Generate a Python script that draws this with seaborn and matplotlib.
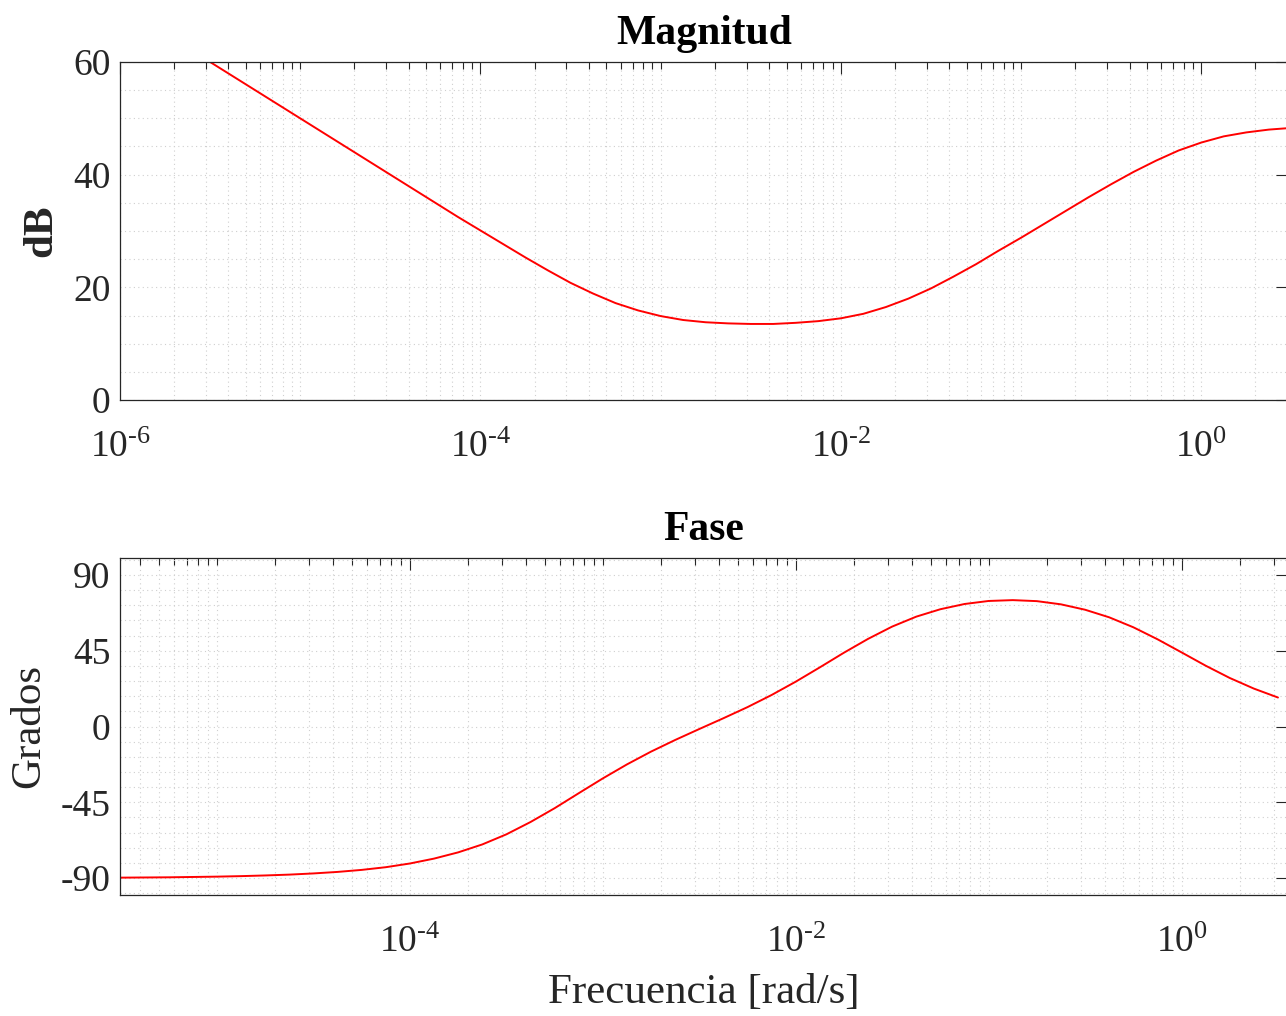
import numpy as np
import matplotlib
matplotlib.use("Agg")
import matplotlib.pyplot as plt
import matplotlib.ticker as mticker
import seaborn as sns

# ------------------------------------------------------------
# data (frequency given as log10 rad/s)
# ------------------------------------------------------------

FREQ_EXP = [
    -5.5, -5.375, -5.25, -5.125, -5.0, -4.875, -4.75, -4.625,
    -4.5, -4.375, -4.25, -4.125, -4.0, -3.875, -3.75, -3.625,
    -3.5, -3.375, -3.25, -3.125, -3.0, -2.875, -2.75, -2.625,
    -2.5, -2.375, -2.25, -2.125, -2.0, -1.875, -1.75, -1.625,
    -1.5, -1.375, -1.25, -1.125, -1.0, -0.875, -0.75, -0.625,
    -0.5, -0.375, -0.25, -0.125, 0.0, 0.125, 0.25, 0.375, 0.5,
]

MAG_DB = [
    60.0, 57.5, 55.0, 52.5, 50.0, 47.5, 45.0, 42.5,
    40.0, 37.5, 35.0, 32.5, 30.1, 27.7, 25.3, 23.0,
    20.8, 18.9, 17.2, 15.9, 14.9, 14.2, 13.8, 13.6,
    13.5, 13.5, 13.7, 14.0, 14.5, 15.3, 16.5, 18.0,
    19.8, 21.9, 24.1, 26.5, 28.8, 31.2, 33.6, 36.0,
    38.3, 40.5, 42.5, 44.3, 45.7, 46.8, 47.5, 48.0, 48.3,
]

PHASE_DEG = [
    -89.7, -89.6, -89.5, -89.3, -89.1, -88.8, -88.4, -87.9,
    -87.2, -86.3, -85.1, -83.5, -81.3, -78.4, -74.7, -70.0,
    -64.0, -56.7, -48.5, -39.6, -30.8, -22.5, -14.9, -8.0,
    -1.5, 4.9, 11.5, 18.7, 26.6, 35.1, 43.8, 52.0,
    59.3, 65.2, 69.6, 72.7, 74.5, 75.0, 74.4, 72.5,
    69.3, 64.8, 58.9, 51.8, 44.0, 36.1, 28.8, 22.5, 17.2,
]

MAG_TICKS = [0, 20, 40, 60]
PHASE_TICKS = [-90, -45, 0, 45, 90]
MAG_XTICKS = [1e-6, 1e-4, 1e-2, 1e0]
PHASE_XTICKS = [1e-4, 1e-2, 1e0]

# ------------------------------------------------------------
# style
# ------------------------------------------------------------

sns.set_style("white")
plt.rcParams["font.family"] = ["Liberation Serif", "DejaVu Serif"]
plt.rcParams["mathtext.fontset"] = "custom"
plt.rcParams["mathtext.rm"] = "Liberation Serif"
plt.rcParams["mathtext.it"] = "Liberation Serif:italic"
plt.rcParams["mathtext.bf"] = "Liberation Serif:bold"
plt.rcParams["axes.unicode_minus"] = False

AX_COLOR = "#262626"
GRID_COLOR = "#cfcfcf"
TICK_SIZE = 27
LABEL_SIZE = 31


def pow10_label(v, pos):
    e = int(round(np.log10(v)))
    if e < 0:
        return r"$10^{\text{-}%d}$" % abs(e)
    return r"$10^{%d}$" % e


def style_axis(ax, xticks):
    ax.set_xscale("log")
    ax.xaxis.set_major_locator(mticker.FixedLocator(xticks))
    ax.xaxis.set_major_formatter(mticker.FuncFormatter(pow10_label))
    ax.xaxis.set_minor_locator(
        mticker.LogLocator(base=10, subs=np.arange(1, 10), numticks=100)
    )
    ax.xaxis.set_minor_formatter(mticker.NullFormatter())

    for s in ax.spines.values():
        s.set_color(AX_COLOR)
        s.set_linewidth(0.9)
        s.set_visible(True)

    ax.tick_params(which="both", direction="in", top=True, right=True,
                   color=AX_COLOR, width=0.8, labelcolor=AX_COLOR)
    ax.tick_params(which="major", length=8.6, labelsize=TICK_SIZE)
    ax.tick_params(which="minor", length=5)
    ax.tick_params(axis="y", which="minor", length=0)
    ax.tick_params(axis="x", which="major", pad=22)
    ax.tick_params(axis="y", which="major", pad=7)

    ax.grid(True, which="both", linestyle=(0, (1, 3)), color=GRID_COLOR,
            linewidth=0.8)
    ax.set_axisbelow(True)


# ------------------------------------------------------------
# figure
# ------------------------------------------------------------

W, H = 1286, 1016
fig = plt.figure(figsize=(W / 100, H / 100), dpi=100)

ax_mag = fig.add_axes([120 / W, (H - 400) / H, 1168 / W, 338 / H])
ax_ph = fig.add_axes([120 / W, (H - 895) / H, 1168 / W, 337 / H])

freq = 10.0 ** np.array(FREQ_EXP)

# ---------- magnitude ----------
style_axis(ax_mag, MAG_XTICKS)
sns.lineplot(x=freq, y=MAG_DB, ax=ax_mag, color="red", linewidth=1.4)
ax_mag.set_xlim(1e-6, 3.03)
ax_mag.set_ylim(0, 60)
ax_mag.set_yticks(MAG_TICKS)
ax_mag.yaxis.set_minor_locator(mticker.MultipleLocator(5))
ax_mag.set_ylabel("dB", fontsize=LABEL_SIZE, fontweight="bold",
                  color=AX_COLOR, labelpad=9)
ax_mag.set_title("Magnitud", fontsize=30, fontweight="bold", pad=13,
                 color="black")

# ---------- phase ----------
style_axis(ax_ph, PHASE_XTICKS)
sns.lineplot(x=freq, y=PHASE_DEG, ax=ax_ph, color="red", linewidth=1.4)
ax_ph.set_xlim(10 ** -5.503, 10 ** 0.552)
ax_ph.set_ylim(-100, 100)
ax_ph.set_yticks(PHASE_TICKS)
ax_ph.yaxis.set_minor_locator(mticker.MultipleLocator(9))
ax_ph.set_ylabel("Grados", fontsize=LABEL_SIZE, color=AX_COLOR, labelpad=9)
ax_ph.set_xlabel("Frecuencia [rad/s]", fontsize=LABEL_SIZE,
                 color=AX_COLOR, labelpad=10)
ax_ph.set_title("Fase", fontsize=30, fontweight="bold", pad=13,
                color="black")

fig.savefig("out.png", dpi=100)
plt.close(fig)
